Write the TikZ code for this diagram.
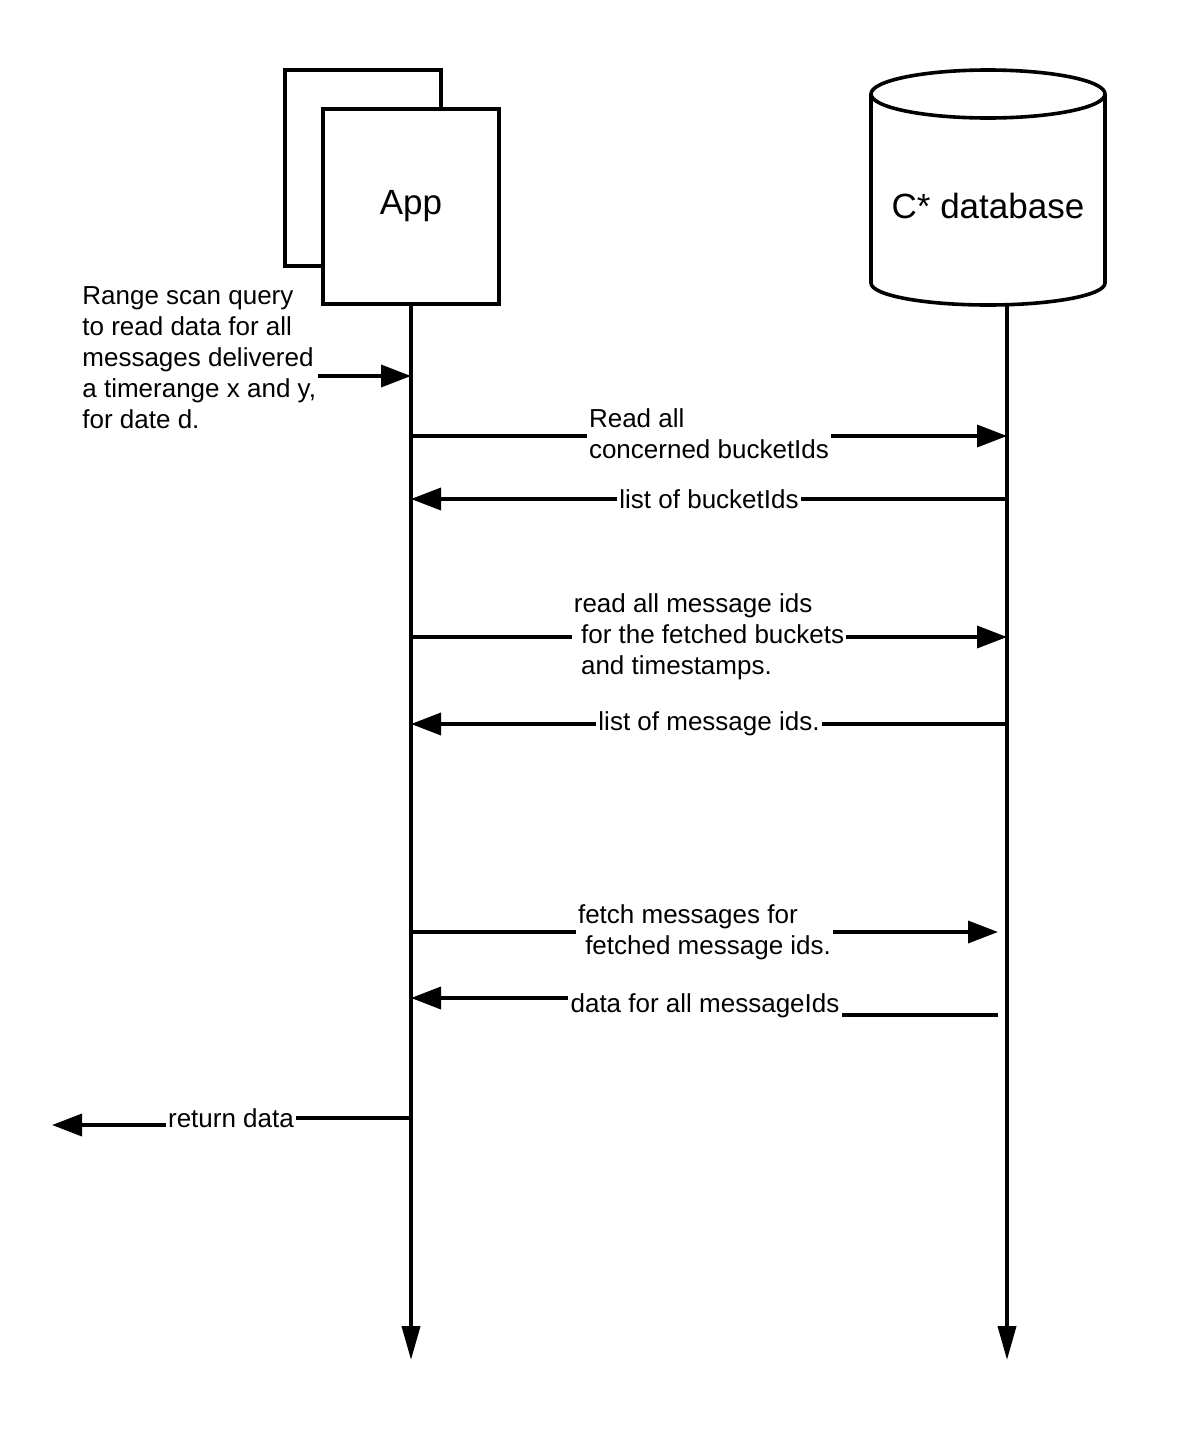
\documentclass[tikz,border=0pt]{standalone}
\usepackage{fontspec}
\setmainfont{Liberation Sans}
\usetikzlibrary{
    arrows.meta,
    calc,
    positioning
}
\tikzset{
    box/.style={draw, line width=1.8pt, fill=white, inner sep=0pt},
    lbl/.style={font=\fontsize{13}{15.5}\selectfont, inner xsep=1pt, inner ysep=0pt, fill=white},
    title/.style={font=\fontsize{17.5}{20}\selectfont},
    msg/.style={line width=1.8pt, -{Triangle[length=15pt, width=11pt]}},
    life/.style={line width=1.9pt, -{Triangle[length=17pt, width=9pt]}}
}

\begin{document}
\begin{tikzpicture}[x=0.5pt, y=-0.5pt]
                        \fill[white] (0, 0) rectangle (1190, 1430);
                        % participants
                        \node[box, minimum width=78pt, minimum height=98pt] (appback) at (363, 168) {};
                        \node[box, title, minimum width=88pt, minimum height=97.5pt] (app) at (411, 206.5) {App};
                        \draw[line width=1.8pt, fill=white] (871, 94) -- (871, 283) arc[start angle=180, end angle=0, x radius=117, y radius=22] -- (1105, 94);
                        \draw[line width=1.8pt] (988, 94) ellipse[x radius=117, y radius=24];
                        \node[title] (db) at (988, 206) {C* database};
                        % lifelines
                        \coordinate (apptop) at (411, 304);
                        \coordinate (append) at (411, 1360);
                        \coordinate (dbtop) at (1007, 305);
                        \coordinate (dbend) at (1007, 1360);
                        \draw[life] (apptop) -- (append);
                        \draw[life] (dbtop) -- (dbend);
                        % incoming query
                        \node[lbl, fill=none, inner xsep=0pt, align=left, anchor=north west] (query) at (82, 286) {Range scan query\\to read data for all\\messages delivered\\a timerange x and y,\\for date d.};
                        \coordinate (q1) at (318, 376);
                        \coordinate (q2) at (411, 376);
                        \draw[msg] (q1) -- (q2);
                        % bucket ids
                        \coordinate (a1) at (411, 436);
                        \coordinate (b1) at (1007, 436);
                        \draw[msg] (a1) -- node[lbl, align=left, yshift=1pt] (m1) {Read all\\concerned bucketIds} (b1);
                        \coordinate (a2) at (1007, 499);
                        \coordinate (b2) at (411, 499);
                        \draw[msg] (a2) -- node[lbl] (m2) {list of bucketIds} (b2);
                        % message ids
                        \coordinate (a3) at (411, 637);
                        \coordinate (b3) at (1007, 637);
                        \draw[msg] (a3) -- node[lbl, align=left] (m3) {read all message ids\\\hspace*{3.6pt}for the fetched buckets\\\hspace*{3.6pt}and timestamps.} (b3);
                        \coordinate (a4) at (1007, 724);
                        \coordinate (b4) at (411, 724);
                        \draw[msg] (a4) -- node[lbl] (m4) {list of message ids.} (b4);
                        % messages
                        \coordinate (a5) at (411, 932);
                        \coordinate (b5) at (998, 932);
                        \draw[msg] (a5) -- node[lbl, align=left] (m5) {fetch messages for\\\hspace*{3.6pt}fetched message ids.} (b5);
                        \node[lbl, fill=none] (m6) at (705, 1006) {data for all messageIds};
                        \coordinate (a6) at (998, 1015);
                        \coordinate (b6) at (411, 998);
                        \draw[line width=1.8pt] (a6) -- (a6 -| m6.east);
                        \draw[msg] (b6 -| m6.west) -- (b6);
                        % return
                        \node[lbl, fill=none] (m7) at (231, 1118) {return data};
                        \coordinate (a7) at (411, 1118);
                        \coordinate (b7) at (52, 1125);
                        \draw[line width=1.8pt] (a7) -- (a7 -| m7.east);
                        \draw[msg] (b7 -| m7.west) -- (b7);
                    \end{tikzpicture}
\end{document}
